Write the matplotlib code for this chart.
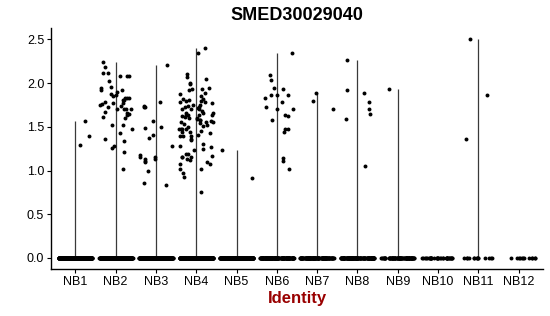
import numpy as np
import matplotlib
matplotlib.use("Agg")
import matplotlib.pyplot as plt

plt.rcParams["font.family"] = ["Liberation Sans", "DejaVu Sans"]

groups = ["NB1", "NB2", "NB3", "NB4", "NB5", "NB6",
          "NB7", "NB8", "NB9", "NB10", "NB11", "NB12"]

# expression values of the cells that are not zero, per group
nb1 = [1.29, 1.39, 1.57]
nb2 = [2.12, 2.24, 1.94, 2.08, 2.12, 2.02, 2.08, 2.08, 2.18, 1.85, 1.83, 1.88,
       1.81, 1.76, 1.77, 1.83, 1.83, 1.92, 1.96, 1.92, 1.86, 1.81, 1.79, 1.73,
       1.70, 1.70, 1.65, 1.61, 1.67, 1.70, 1.74, 1.52, 1.48, 1.71, 1.66, 1.60,
       1.52, 1.43, 1.36, 1.34, 1.21, 1.02, 1.28, 1.26, 1.77, 1.75, 1.64, 1.90]
nb3 = [1.50, 1.74, 1.73, 1.49, 1.37, 1.28, 1.16, 1.11, 1.10, 1.15, 1.18, 1.13,
       1.13, 1.00, 0.84, 1.73, 1.79, 1.41, 1.57, 2.21, 0.86]
nb4 = [2.40, 2.34, 1.93, 2.05, 2.10, 2.07, 1.92, 1.99, 1.89, 1.93, 2.00, 1.85,
       1.80, 1.82, 1.82, 1.79, 1.81, 1.80, 1.78, 1.75, 1.73, 1.74, 1.71, 1.75,
       1.70, 1.73, 1.66, 1.62, 1.63, 1.66, 1.63, 1.63, 1.66, 1.60, 1.54, 1.56,
       1.57, 1.56, 1.59, 1.58, 1.51, 1.40, 1.44, 1.48, 1.47, 1.41, 1.48, 1.47,
       1.36, 1.44, 1.40, 1.27, 1.24, 1.19, 1.25, 1.28, 1.19, 1.17, 1.08, 1.02,
       1.15, 1.12, 1.02, 1.13, 1.08, 0.93, 0.76, 0.97, 1.61, 1.43, 1.35, 1.16,
       1.16, 1.55, 1.68, 1.72, 1.58, 1.39, 1.50, 1.64, 1.77, 1.52, 1.45, 1.60,
       1.88, 1.95, 1.70, 1.53, 1.30, 1.10]
nb5 = [1.23, 0.92]
nb6 = [2.34, 1.86, 1.79, 1.73, 1.62, 1.63, 1.47, 1.44, 1.47, 2.09, 1.93, 1.86,
       1.87, 2.04, 1.83, 1.70, 1.58, 1.95, 1.02, 1.11, 1.14, 1.70]
nb7 = [1.80, 1.89, 1.71]
nb8 = [1.71, 1.92, 1.89, 1.59, 1.65, 2.26, 1.05, 1.79]
nb9 = [1.93]
nb10 = []
nb11 = [1.87, 1.36, 2.50]
nb12 = []

# number of cells with zero expression, per group
zero_counts = [260, 240, 250, 260, 230, 150, 120, 130, 80, 35, 14, 12]

nonzero = [nb1, nb2, nb3, nb4, nb5, nb6, nb7, nb8, nb9, nb10, nb11, nb12]

fig = plt.figure(figsize=(5.5, 3.16), dpi=100)
ax = fig.add_axes([0.093, 0.149, 0.894, 0.762])

rng = np.random.default_rng(7)
for i, (vals, nz) in enumerate(zip(nonzero, zero_counts)):
    pos = i + 1
    y = np.array(list(vals) + [0.0] * nz)
    # collapsed violin: only a thin line is visible
    if len(vals) > 0:
        ax.vlines(pos, 0, y.max(), color="#3a3a3a", lw=0.9, zorder=1)
    x = pos + rng.uniform(-0.42, 0.42, size=len(y))
    ax.scatter(x, y, s=8, color="black", linewidths=0, zorder=2)

ax.set_xlim(0.4, 12.6)
ax.set_ylim(-0.126, 2.63)
ax.set_xticks(range(1, len(groups) + 1))
ax.set_xticklabels(groups)
ax.set_yticks([0.0, 0.5, 1.0, 1.5, 2.0, 2.5])
ax.set_yticklabels(["0.0", "0.5", "1.0", "1.5", "2.0", "2.5"])
ax.tick_params(axis="both", labelsize=9, colors="black", length=3, width=0.8, pad=2)

for side in ["top", "right"]:
    ax.spines[side].set_visible(False)
for side in ["left", "bottom"]:
    ax.spines[side].set_linewidth(1.0)

ax.set_title("SMED30029040", fontsize=13, fontweight="bold", pad=6)
ax.set_xlabel("Identity", fontsize=12, fontweight="bold", color="#990000", labelpad=2)

fig.savefig("out.png", dpi=100)
